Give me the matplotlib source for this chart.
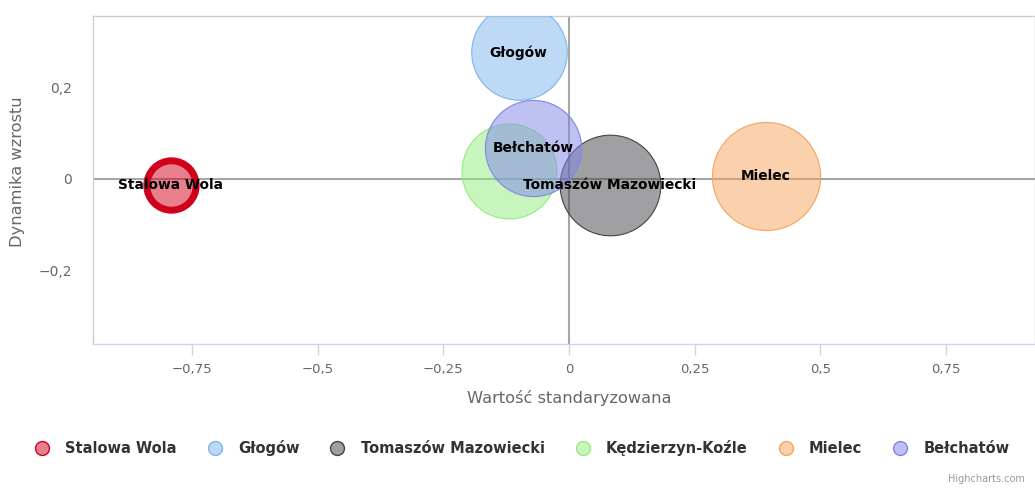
import matplotlib
matplotlib.use("Agg")
import matplotlib.pyplot as plt
from matplotlib.lines import Line2D
from matplotlib.colors import to_rgba
from matplotlib.ticker import FuncFormatter

# Dane
miasta = ["Stalowa Wola", "Głogów", "Tomaszów Mazowiecki", "Kędzierzyn-Koźle", "Mielec", "Bełchatów"]
wartosc_std = [-0.792, -0.100, 0.081, -0.120, 0.392, -0.071]
dynamika = [-0.013, 0.278, -0.013, 0.017, 0.007, 0.068]
wielkosc = [6.1, 22.8, 25.3, 22.5, 29.2, 23.1]

x_ticks = [-0.75, -0.5, -0.25, 0, 0.25, 0.5, 0.75]
y_ticks = [-0.2, 0, 0.2]

kolory = ["#d0021b", "#7cb5ec", "#434348", "#90ed7d", "#f7a35c", "#8085e9"]
grubosc = [5, 0.8, 0.8, 0.8, 0.8, 0.8]


def fmt(v, pos=None):
    s = f"{v:g}".replace(".", ",").replace("-", "\u2212")
    return "0" if s == "\u22120" else s


plt.rcParams["font.family"] = ["DejaVu Sans"]

fig = plt.figure(figsize=(10.35, 4.88), dpi=100)
ax = fig.add_axes([93 / 1035, 1 - 344 / 488, 942 / 1035, 328 / 488])

ax.set_xlim(-0.947, 0.9275)
ax.set_ylim(-0.361, 0.356)

# linie zerowe
ax.axhline(0, color="#a6a6a6", lw=1.5, zorder=1)
ax.axvline(0, color="#a6a6a6", lw=1.5, zorder=1)

# bąbelki
for i in range(len(miasta)):
    ax.scatter(wartosc_std[i], dynamika[i], s=wielkosc[i] * 207.4,
               facecolor=to_rgba(kolory[i], 0.5), edgecolor=kolory[i],
               linewidths=grubosc[i], zorder=2 + i)

for i in range(len(miasta)):
    if miasta[i] == "Kędzierzyn-Koźle":
        continue
    ax.annotate(miasta[i], (wartosc_std[i], dynamika[i]), xytext=(0, -0.5),
                textcoords="offset points", ha="center", va="center",
                fontsize=9.9, fontweight="bold", color="black", zorder=20)

ax.set_xticks(x_ticks)
ax.set_yticks(y_ticks)
ax.xaxis.set_major_formatter(FuncFormatter(fmt))
ax.yaxis.set_major_formatter(FuncFormatter(fmt))
ax.tick_params(axis="x", length=8, width=1, color="#ccd6eb", labelcolor="#666666",
               labelsize=9.5, pad=6)
ax.tick_params(axis="y", length=0, labelcolor="#666666", labelsize=10, pad=15)

for side in ["top", "left", "right"]:
    ax.spines[side].set_color("#cccccc")
    ax.spines[side].set_linewidth(1)
ax.spines["bottom"].set_color("#ccd6eb")
ax.spines["bottom"].set_linewidth(1)

ax.set_xlabel("Wartość standaryzowana", color="#666666", fontsize=11.7)
ax.set_ylabel("Dynamika wzrostu", color="#666666", fontsize=11.7)
ax.xaxis.set_label_coords((569 - 93) / 942, -(398 - 344) / 328)
ax.yaxis.set_label_coords(-(93 - 18) / 942, (344 - 172) / 328)
ax.xaxis.label.set_va("center")
ax.yaxis.label.set_va("center")

# legenda
uchwyty = []
for i in range(len(miasta)):
    uchwyty.append(Line2D([], [], marker="o", linestyle="", markersize=10,
                          markerfacecolor=to_rgba(kolory[i], 0.5),
                          markeredgecolor=kolory[i], markeredgewidth=1))
leg = fig.legend(uchwyty, miasta, loc="center", bbox_to_anchor=(522 / 1035, 1 - 448 / 488),
                 ncol=6, frameon=False, handletextpad=1.1, columnspacing=2.1,
                 handlelength=1.0, prop={"weight": "bold", "size": 10.5})
for t in leg.get_texts():
    t.set_color("#333333")

fig.text(948 / 1035, 1 - 479 / 488, "Highcharts.com", fontsize=7, color="#999999",
         ha="left", va="center")

fig.savefig("out.png", dpi=100)
